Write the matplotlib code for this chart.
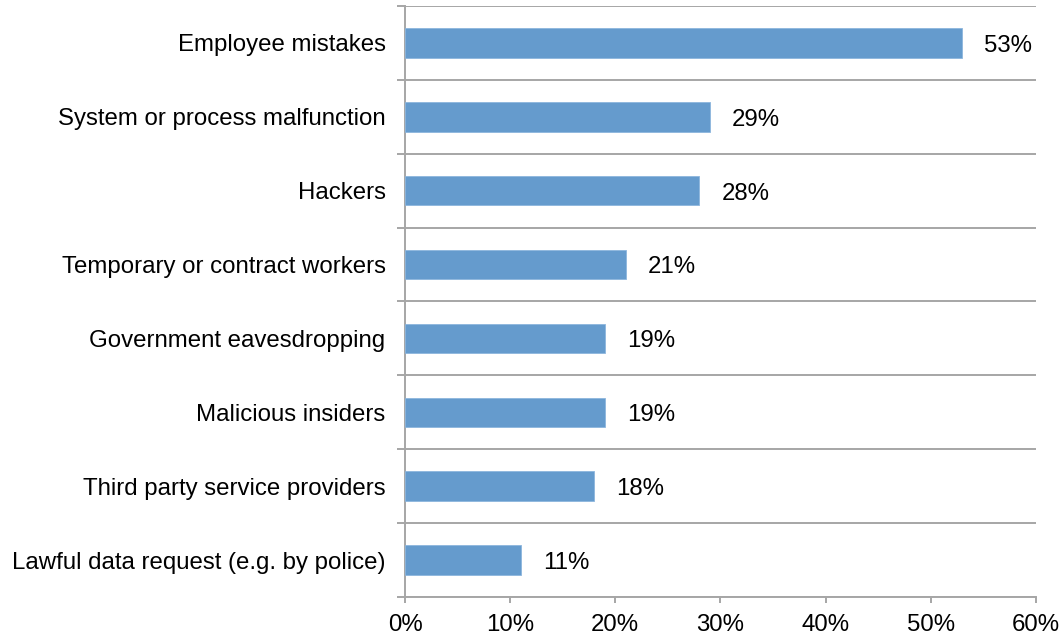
import numpy as np
import matplotlib.pyplot as plt
from matplotlib.ticker import FixedLocator, PercentFormatter

# Survey results: perceived causes of data breaches
causes = [
    'Employee mistakes',
    'System or process malfunction',
    'Hackers',
    'Temporary or contract workers',
    'Government eavesdropping',
    'Malicious insiders',
    'Third party service providers',
    'Lawful data request (e.g. by police)',
]
shares = [53, 29, 28, 21, 19, 19, 18, 11]
x_ticks = [0, 10, 20, 30, 40, 50, 60]

plt.rcParams['font.family'] = ['Liberation Sans', 'DejaVu Sans']

bar_color = '#659BCD'
line_color = '#A6A6A6'
fs = 17.3

fig = plt.figure(figsize=(10.63, 6.42), dpi=100)
ax = fig.add_axes([0.381, 0.0701, 0.5935, 0.9206])

pos = np.arange(len(causes))
ax.barh(pos, shares, height=0.4, color=bar_color, edgecolor='#8DB6DD',
        linewidth=0.6, zorder=3)

for y, v in zip(pos, shares):
    ax.text(v + 2.1, y + 0.04, f'{v}%', va='center', ha='left', fontsize=fs,
            color='black')

ax.set_xlim(0, 60)
ax.set_ylim(len(causes) - 0.5, -0.5)

# category labels sit on major ticks, separators on minor ticks
ax.set_yticks(pos)
ax.set_yticklabels(causes, fontsize=fs)
ax.yaxis.set_minor_locator(FixedLocator(np.arange(-0.5, len(causes), 1.0)))
ax.tick_params(axis='y', which='major', length=0, pad=14)
ax.tick_params(axis='y', which='minor', length=6, width=1.4,
               color=line_color, direction='out')
ax.grid(axis='y', which='minor', color=line_color, linewidth=1.4, zorder=0)

ax.set_xticks(x_ticks)
ax.xaxis.set_major_formatter(PercentFormatter(decimals=0))
ax.tick_params(axis='x', length=4, width=1.4, color=line_color,
               labelsize=fs, pad=8)

for side in ['top', 'right']:
    ax.spines[side].set_visible(False)
for side in ['left', 'bottom']:
    ax.spines[side].set_color(line_color)
    ax.spines[side].set_linewidth(1.4)

fig.savefig('out.png', dpi=100)
